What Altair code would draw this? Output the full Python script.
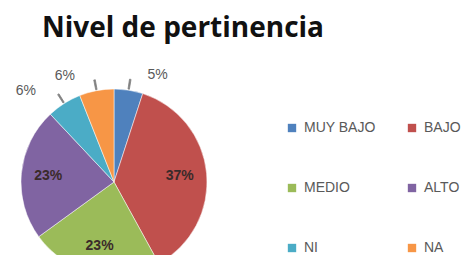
import altair as alt
import pandas as pd

categories = ["MUY BAJO", "BAJO", "MEDIO", "ALTO", "NI", "NA"]
values = [5, 37, 23, 23, 6, 6]
labels = ["5%", "37%", "23%", "23%", "6%", "6%"]
colors = ["#4F81BD", "#C0504D", "#9BBB59", "#8064A2", "#4BACC6", "#F79646"]
# legend is filled column by column, so list entries to read row by row
legend_order = ["MUY BAJO", "MEDIO", "NI", "BAJO", "ALTO", "NA"]

df = pd.DataFrame({
    "cat": categories,
    "value": values,
    "label": labels,
    "idx": list(range(len(categories))),
})

CX, CY, R = 106, 129, 93
theta_scale = alt.Scale(domain=[0, 100], range=[0, 6.283185307])
color = alt.Color(
    "cat:N",
    scale=alt.Scale(domain=legend_order, range=[colors[categories.index(c)] for c in legend_order]),
    legend=alt.Legend(
        title=None, orient="none", legendX=277, legendY=68, columns=2,
        symbolType="square", symbolSize=70, symbolStrokeWidth=0,
        labelFontSize=14, labelFont="Liberation Sans", labelColor="#595959",
        labelOffset=5, rowPadding=46, columnPadding=29, padding=0,
    ),
)

base = alt.Chart(df).encode(
    x=alt.value(CX), y=alt.value(CY),
)

pie = base.mark_arc(outerRadius=R, stroke="white", strokeWidth=0.5).encode(
    theta=alt.Theta("value:Q", stack=True, scale=theta_scale),
    color=color,
    order=alt.Order("idx:Q"),
)

derived = base.transform_window(
    cum="sum(value)", sort=[alt.SortField("idx")]
).transform_calculate(
    mid="datum.cum - datum.value / 2",
    t1="datum.mid - 0.12",
    t2="datum.mid + 0.12",
)

inside = derived.transform_filter("datum.value >= 10").mark_text(
    radius=66, fontSize=14, fontWeight="bold", font="Liberation Sans", color="#3a2a2a"
).encode(
    theta=alt.Theta("mid:Q", scale=theta_scale),
    text="label:N",
)

leaders = derived.transform_filter("datum.value < 10").mark_arc(
    radius=104, radius2=R + 1, color="#808080", stroke="#808080", strokeWidth=0.8
).encode(
    theta=alt.Theta("t1:Q", scale=theta_scale),
    theta2="t2:Q",
)

out_right = derived.transform_filter("datum.value < 10 && datum.mid < 50").mark_text(
    radius=112, align="left", dx=16, dy=4, fontSize=14, font="Liberation Sans", color="#595959"
).encode(
    theta=alt.Theta("mid:Q", scale=theta_scale),
    text="label:N",
)

out_left = derived.transform_filter("datum.value < 10 && datum.mid >= 50").mark_text(
    radius=112, align="right", dx=-18, dy=4, fontSize=14, font="Liberation Sans", color="#595959"
).encode(
    theta=alt.Theta("mid:Q", scale=theta_scale),
    text="label:N",
)

chart = alt.layer(pie, leaders, inside, out_right, out_left).properties(
    width=453, height=202,
    autosize="none",
    padding={"left": 0, "top": 45, "right": 0, "bottom": 0},
    title=alt.TitleParams(
        "Nivel de pertinencia", anchor="start", dx=34, fontSize=28,
        font="Open Sans", fontWeight="bold", color="#111111", offset=10,
    ),
).configure_view(stroke=None)

chart.save("out.html", embed_options={"renderer": "svg", "actions": False})
